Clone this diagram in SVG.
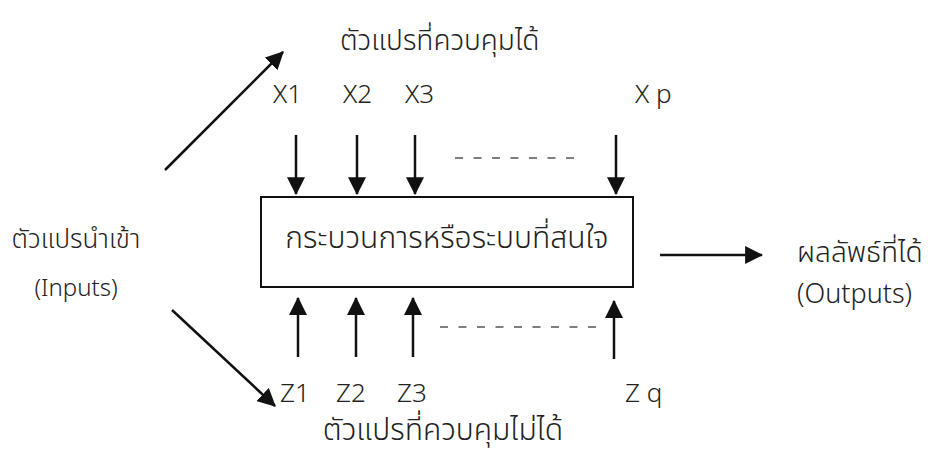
<svg xmlns="http://www.w3.org/2000/svg" width="949" height="459" viewBox="0 0 949 459">
  <style>
    .t { font-family: "Noto Sans Thai", "Noto Sans", "DejaVu Sans", sans-serif; font-size: 30px; font-weight: 300; fill: #222; }
    .l { font-family: "Noto Sans", "Open Sans", sans-serif; font-size: 26px; font-weight: 300; fill: #222; }
    .ln { stroke: #111; stroke-width: 2.5; fill: none; }
    .dash { stroke: #555; stroke-width: 1.5; stroke-dasharray: 8 10.5; fill: none; }
  </style>
  <defs>
    <marker id="ah" markerUnits="userSpaceOnUse" markerWidth="18" markerHeight="18" viewBox="0 0 16 16" refX="15" refY="8" orient="auto">
      <path d="M0,0 L16,8 L0,16 Z" fill="#111"/>
    </marker>
  </defs>
  <rect width="949" height="459" fill="#fff"/>

  <g id="process">
    <rect x="261" y="197" width="372" height="90" fill="none" stroke="#111" stroke-width="2"/>
    <text class="t" x="447" y="248" text-anchor="middle">กระบวนการหรือระบบที่สนใจ</text>
  </g>

  <g id="inputs">
    <text class="t" x="76" y="248" text-anchor="middle" style="font-size:26px">ตัวแปรนำเข้า</text>
    <text class="l" x="76" y="296" text-anchor="middle" style="font-size:24px">(Inputs)</text>
  </g>

  <g id="controlled">
    <text class="t" x="340" y="50" style="font-size:28px">ตัวแปรที่ควบคุมได้</text>
    <text class="l" x="273" y="103">X1</text>
    <text class="l" x="343" y="103">X2</text>
    <text class="l" x="405" y="103">X3</text>
    <text class="l" x="635" y="103">X p</text>
  </g>

  <g id="uncontrolled">
    <text class="l" x="280" y="402">Z1</text>
    <text class="l" x="336" y="402">Z2</text>
    <text class="l" x="397" y="402">Z3</text>
    <text class="l" x="625" y="402">Z q</text>
    <text class="t" x="443" y="440" text-anchor="middle">ตัวแปรที่ควบคุมไม่ได้</text>
  </g>

  <g id="outputs">
    <text class="t" x="797" y="262" style="font-size:28px">ผลลัพธ์ที่ได้</text>
    <text class="l" x="797" y="303" style="font-size:27px">(Outputs)</text>
  </g>

  <g id="connectors">
    <line class="ln" x1="165" y1="170" x2="283" y2="52" marker-end="url(#ah)"/>
    <line class="ln" x1="172" y1="310" x2="275" y2="406" marker-end="url(#ah)"/>
    <line class="ln" x1="296" y1="135" x2="296" y2="194" marker-end="url(#ah)"/>
    <line class="ln" x1="357" y1="135" x2="357" y2="194" marker-end="url(#ah)"/>
    <line class="ln" x1="415" y1="135" x2="415" y2="194" marker-end="url(#ah)"/>
    <line class="ln" x1="616" y1="135" x2="616" y2="194" marker-end="url(#ah)"/>
    <line class="ln" x1="298" y1="357" x2="298" y2="298" marker-end="url(#ah)"/>
    <line class="ln" x1="356" y1="357" x2="356" y2="298" marker-end="url(#ah)"/>
    <line class="ln" x1="413" y1="357" x2="413" y2="298" marker-end="url(#ah)"/>
    <line class="ln" x1="614" y1="359" x2="614" y2="301" marker-end="url(#ah)"/>
    <line class="ln" x1="660" y1="255" x2="762" y2="255" marker-end="url(#ah)"/>
    <line class="dash" x1="455" y1="158" x2="575" y2="158"/>
    <line class="dash" x1="440" y1="327" x2="597" y2="327"/>
  </g>
</svg>
